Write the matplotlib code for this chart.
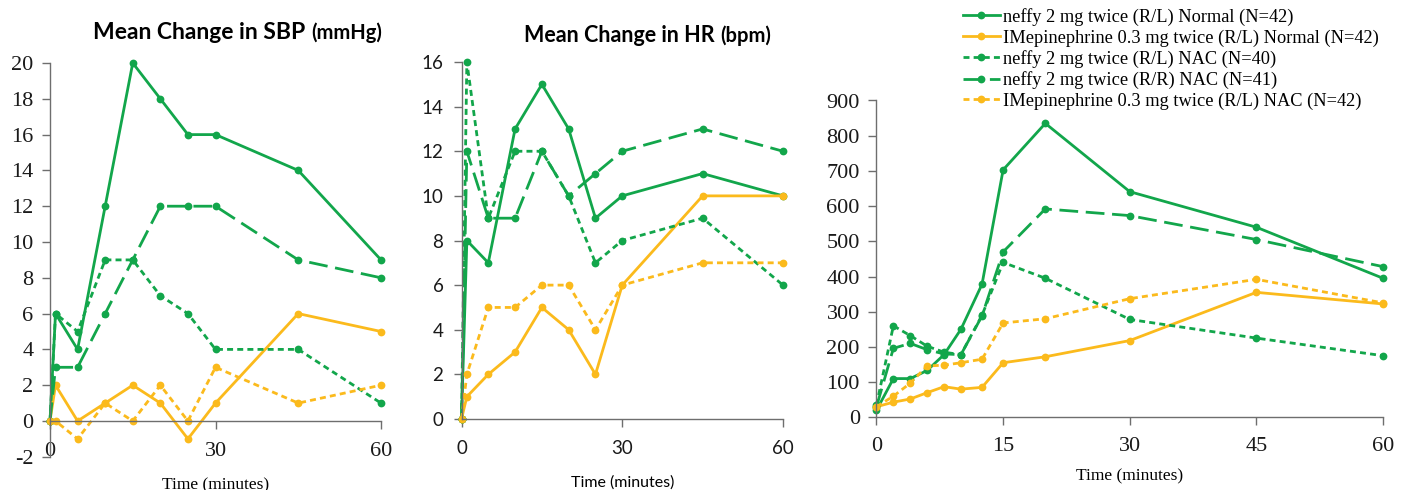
import matplotlib
matplotlib.use('Agg')
import matplotlib.pyplot as plt

# ---------------- data ----------------
labels = [
    "neffy 2 mg twice (R/L) Normal (N=42)",
    "IMepinephrine 0.3 mg twice (R/L) Normal (N=42)",
    "neffy 2 mg twice (R/L) NAC (N=40)",
    "neffy 2 mg twice (R/R) NAC (N=41)",
    "IMepinephrine 0.3 mg twice (R/L) NAC (N=42)",
]

t_vitals = [0, 1, 5, 10, 15, 20, 25, 30, 45, 60]

sbp_neffy_norm = [0, 6, 4, 12, 20, 18, 16, 16, 14, 9]
sbp_im_norm = [0, 2, 0, 1, 2, 1, -1, 1, 6, 5]
sbp_neffy_rl_nac = [0, 6, 5, 9, 9, 7, 6, 4, 4, 1]
sbp_neffy_rr_nac = [0, 3, 3, 6, 9, 12, 12, 12, 9, 8]
sbp_im_nac = [0, 0, -1, 1, 0, 2, 0, 3, 1, 2]

hr_neffy_norm = [0, 8, 7, 13, 15, 13, 9, 10, 11, 10]
hr_im_norm = [0, 1, 2, 3, 5, 4, 2, 6, 10, 10]
hr_neffy_rl_nac = [0, 16, 9, 12, 12, 10, 7, 8, 9, 6]
hr_neffy_rr_nac = [0, 12, 9, 9, 12, 10, 11, 12, 13, 12]
hr_im_nac = [0, 2, 5, 5, 6, 6, 4, 6, 7, 7]

t_pk = [0, 2, 4, 6, 8, 10, 12.5, 15, 20, 30, 45, 60]
pk_neffy_norm = [20, 110, 110, 133, 178, 250, 378, 703, 835, 641, 540, 395]
pk_im_norm = [30, 43, 52, 70, 87, 80, 85, 155, 172, 218, 355, 322]
pk_neffy_rl_nac = [35, 260, 232, 202, 185, 178, 290, 440, 395, 278, 225, 175]
pk_neffy_rr_nac = [30, 196, 210, 192, 180, 178, 288, 470, 592, 573, 505, 428]
pk_im_nac = [30, 60, 97, 146, 148, 155, 165, 268, 280, 337, 392, 325]

sbp_series = [sbp_neffy_norm, sbp_im_norm, sbp_neffy_rl_nac, sbp_neffy_rr_nac, sbp_im_nac]
hr_series = [hr_neffy_norm, hr_im_norm, hr_neffy_rl_nac, hr_neffy_rr_nac, hr_im_nac]
pk_series = [pk_neffy_norm, pk_im_norm, pk_neffy_rl_nac, pk_neffy_rr_nac, pk_im_nac]

sbp_xticks = [0, 30, 60]
sbp_yticks = list(range(-2, 21, 2))
hr_xticks = [0, 30, 60]
hr_yticks = list(range(0, 17, 2))
pk_xticks = [0, 15, 30, 45, 60]
pk_yticks = list(range(0, 901, 100))

# ---------------- style ----------------
SERIF = 'Liberation Serif'
SANS = 'Lato'
plt.rcParams['lines.scale_dashes'] = False
plt.rcParams['axes.unicode_minus'] = False
plt.rcParams['font.family'] = [SERIF]

GREEN = '#12A64B'
GOLD = '#FBBA1C'
SPINE = '#6E6E6E'
SHORT = (0, (4.3, 3.0))
LONG = (0, (13.5, 5.5))
colors = [GREEN, GOLD, GREEN, GREEN, GOLD]
styles = ['-', '-', SHORT, LONG, SHORT]

W, H = 1409, 490
fig = plt.figure(figsize=(W / 100, H / 100), dpi=100)


def rect(x0, x1, ytop, ybot):
    return [x0 / W, 1 - ybot / H, (x1 - x0) / W, (ybot - ytop) / H]


def draw(ax, t, series):
    handles = []
    for y, c, ls, lab in zip(series, colors, styles, labels):
        h, = ax.plot(t, y, color=c, linestyle=ls, lw=2.0, marker='o',
                     markersize=5.6, markeredgewidth=0, clip_on=False, label=lab)
        handles.append(h)
    return handles


def style_axes(ax, xt, yt, font, fsize, padx, pady):
    for s in ['top', 'right']:
        ax.spines[s].set_visible(False)
    for s in ['left', 'bottom']:
        ax.spines[s].set_color(SPINE)
        ax.spines[s].set_linewidth(1.0)
    ax.tick_params(axis='both', direction='out', length=6, width=1.0, color=SPINE,
                   labelcolor='#1a1a1a', labelsize=fsize, labelfontfamily=font)
    ax.tick_params(axis='x', pad=padx)
    ax.tick_params(axis='y', pad=pady)
    ax.set_xticks(xt, [str(v) for v in xt], fontfamily=font, fontsize=fsize)
    ax.set_yticks(yt, [str(v) for v in yt], fontfamily=font, fontsize=fsize)


# ---- SBP panel ----
ax1 = fig.add_axes(rect(50, 381, 63, 456.8))
draw(ax1, t_vitals, sbp_series)
ax1.set_xlim(0, 60)
ax1.set_ylim(-2, 20)
ax1.spines['bottom'].set_position(('data', 0))
style_axes(ax1, sbp_xticks, sbp_yticks, SERIF, 16, 9, 6)
ax1.set_xlabel('Time (minutes)', fontfamily=SERIF, fontsize=12.5)
ax1.xaxis.set_label_coords(0.5, -0.052)

# ---- HR panel ----
ax2 = fig.add_axes(rect(461.5, 783, 62, 419))
draw(ax2, t_vitals, hr_series)
ax2.set_xlim(0, 60)
ax2.set_ylim(0, 16)
style_axes(ax2, hr_xticks, hr_yticks, SANS, 13.5, 9, 7)
ax2.set_xlabel('Time (minutes)', fontfamily=SANS, fontsize=11.5)
ax2.xaxis.set_label_coords(0.5, -0.158)

# ---- PK panel ----
ax3 = fig.add_axes(rect(876.5, 1383, 100.5, 417.3))
handles = draw(ax3, t_pk, pk_series)
ax3.set_xlim(0, 60)
ax3.set_ylim(0, 900)
style_axes(ax3, pk_xticks, pk_yticks, SERIF, 16, 8, 6)
ax3.set_xlabel('Time (minutes)', fontfamily=SERIF, fontsize=12.5)
ax3.xaxis.set_label_coords(0.5, -0.16)

# ---- titles ----
fig.text(305 / W, 1 - 39 / H, 'Mean Change in SBP', ha='right', va='baseline',
         fontfamily=SANS, fontweight='bold', fontsize=16.5)
fig.text(311 / W, 1 - 39 / H, '(mmHg)', ha='left', va='baseline',
         fontfamily=SANS, fontweight='bold', fontsize=14.5)
fig.text(715 / W, 1 - 42 / H, 'Mean Change in HR', ha='right', va='baseline',
         fontfamily=SANS, fontweight='bold', fontsize=15.5)
fig.text(720 / W, 1 - 42 / H, '(bpm)', ha='left', va='baseline',
         fontfamily=SANS, fontweight='bold', fontsize=14.5)

# ---- legend ----
fig.legend(handles=handles, loc='upper left', bbox_to_anchor=(963 / W, 1 - 8 / H),
           frameon=False, borderpad=0, borderaxespad=0, labelspacing=0.18,
           handlelength=2.0, handletextpad=0.2,
           prop={'family': SERIF, 'size': 13.2})

fig.savefig('out.png', dpi=100)
